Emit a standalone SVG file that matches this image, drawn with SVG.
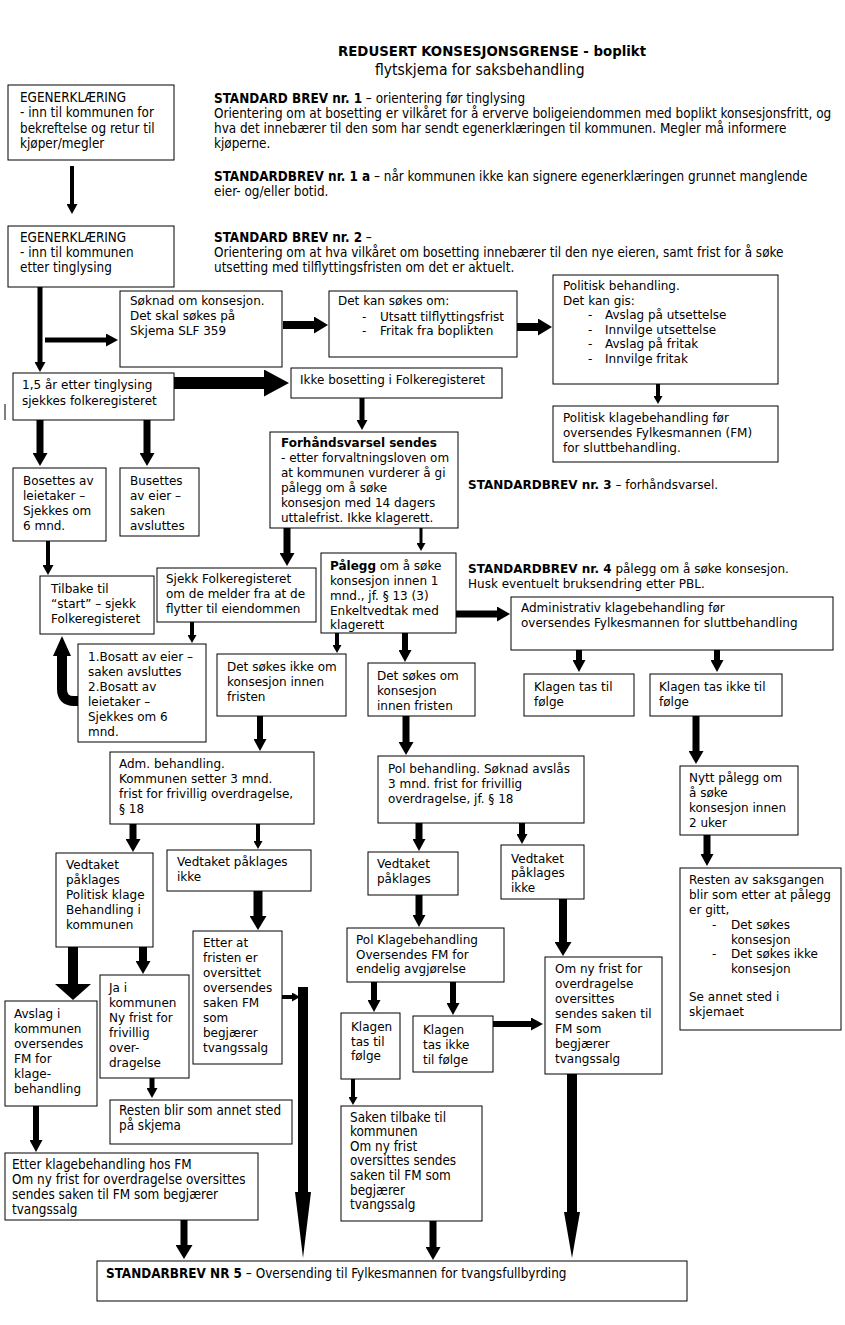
<svg xmlns="http://www.w3.org/2000/svg" width="845" height="1325" viewBox="0 0 845 1325">
<style>
.b{fill:#fff;stroke:#000;stroke-width:1}
.v{font-family:Verdana,"DejaVu Sans",sans-serif;font-size:12px;fill:#000}
.t{font-family:Tahoma,"DejaVu Sans Condensed","DejaVu Sans",sans-serif;font-size:13.4px;fill:#000}
.bd{font-weight:bold}
.c path,.c line{stroke:#000;fill:none}
</style>
<defs>
<marker id="h8" markerUnits="userSpaceOnUse" markerWidth="8" markerHeight="9" viewBox="0 0 8 9" refX="0" refY="4.5" orient="auto"><path d="M0,0L8,4.5L0,9z"/></marker>
<marker id="h10" markerUnits="userSpaceOnUse" markerWidth="10" markerHeight="11" viewBox="0 0 10 11" refX="0" refY="5.5" orient="auto"><path d="M0,0L10,5.5L0,11z"/></marker>
<marker id="h12" markerUnits="userSpaceOnUse" markerWidth="12" markerHeight="13" viewBox="0 0 12 13" refX="0" refY="6.5" orient="auto"><path d="M0,0L12,6.5L0,13z"/></marker>
<marker id="h14" markerUnits="userSpaceOnUse" markerWidth="13" markerHeight="15" viewBox="0 0 13 15" refX="0" refY="7.5" orient="auto"><path d="M0,0L13,7.5L0,15z"/></marker>
<marker id="h16" markerUnits="userSpaceOnUse" markerWidth="14" markerHeight="17" viewBox="0 0 14 17" refX="0" refY="8.5" orient="auto"><path d="M0,0L14,8.5L0,17z"/></marker>
<marker id="h26" markerUnits="userSpaceOnUse" markerWidth="25" markerHeight="27" viewBox="0 0 25 27" refX="0" refY="13.5" orient="auto"><path d="M0,0L25,13.5L0,27z"/></marker>
<marker id="hw" markerUnits="userSpaceOnUse" markerWidth="16" markerHeight="36" viewBox="0 0 16 36" refX="0" refY="18" orient="auto"><path d="M0,0L16,18L0,36z"/></marker>
</defs>

<g id="headers">
<text x="338" y="56" class="t bd" style="font-size:14.8px">REDUSERT KONSESJONSGRENSE - boplikt</text>
<text x="375" y="75" class="t" style="font-size:15.5px">flytskjema for saksbehandling</text>
<text x="214" y="103" class="t"><tspan class="bd">STANDARD BREV nr. 1</tspan> – orientering før tinglysing</text>
<text x="214" y="118" class="t">Orientering om at bosetting er vilkåret for å erverve boligeiendommen med boplikt konsesjonsfritt, og</text>
<text x="214" y="133" class="t">hva det innebærer til den som har sendt egenerklæringen til kommunen. Megler må informere</text>
<text x="214" y="148" class="t">kjøperne.</text>
<text x="214" y="181" class="t"><tspan class="bd">STANDARDBREV nr. 1 a</tspan> – når kommunen ikke kan signere egenerklæringen grunnet manglende</text>
<text x="214" y="196" class="t">eier- og/eller botid.</text>
<text x="214" y="242" class="t"><tspan class="bd">STANDARD BREV nr. 2</tspan> –</text>
<text x="214" y="257" class="t">Orientering om at hva vilkåret om bosetting innebærer til den nye eieren, samt frist for å søke</text>
<text x="214" y="272" class="t">utsetting med tilflyttingsfristen om det er aktuelt.</text>
<text x="468" y="489" class="v"><tspan class="bd">STANDARDBREV nr. 3</tspan> – forhåndsvarsel.</text>
<text x="468" y="573" class="v"><tspan class="bd">STANDARDBREV nr. 4</tspan> pålegg om å søke konsesjon.</text>
<text x="468" y="588" class="v">Husk eventuelt bruksendring etter PBL.</text>
</g>

<g id="n-egen1"><rect class="b" x="8" y="85" width="166" height="75"/>
<text class="t" x="20" y="102">EGENERKLÆRING</text><text class="t" x="20" y="117">- inn til kommunen for</text><text class="t" x="20" y="133">bekreftelse og retur til</text><text class="t" x="20" y="148">kjøper/megler</text></g>
<g id="n-egen2"><rect class="b" x="8" y="226" width="166" height="61"/>
<text class="t" x="20" y="242">EGENERKLÆRING</text><text class="t" x="20" y="257">- inn til kommunen</text><text class="t" x="20" y="272">etter tinglysing</text></g>
<g id="n-soknad"><rect class="b" x="120" y="291" width="162" height="76"/>
<text class="v" x="130" y="305">Søknad om konsesjon.</text><text class="v" x="130" y="320">Det skal søkes på</text><text class="v" x="130" y="335">Skjema SLF 359</text></g>
<g id="n-detkan"><rect class="b" x="329" y="291" width="188" height="66"/>
<text class="v" x="338" y="305">Det kan søkes om:</text><text class="v" x="362" y="321">-</text><text class="v" x="380" y="321">Utsatt tilflyttingsfrist</text><text class="v" x="362" y="335">-</text><text class="v" x="380" y="335">Fritak fra boplikten</text></g>
<g id="n-politisk"><rect class="b" x="553" y="275" width="225" height="109"/>
<text class="v" x="563" y="290">Politisk behandling.</text><text class="v" x="563" y="305">Det kan gis:</text>
<text class="v" x="588" y="319">-</text><text class="v" x="605" y="319">Avslag på utsettelse</text>
<text class="v" x="588" y="334">-</text><text class="v" x="605" y="334">Innvilge utsettelse</text>
<text class="v" x="588" y="348">-</text><text class="v" x="605" y="348">Avslag på fritak</text>
<text class="v" x="588" y="363">-</text><text class="v" x="605" y="363">Innvilge fritak</text></g>
<g id="n-polklage"><rect class="b" x="553" y="406" width="225" height="56"/>
<text class="v" x="563" y="422">Politisk klagebehandling før</text><text class="v" x="563" y="437">oversendes Fylkesmannen (FM)</text><text class="v" x="563" y="452">for sluttbehandling.</text></g>
<g id="n-15ar"><rect class="b" x="13" y="373" width="161" height="47"/>
<text class="v" x="22" y="389">1,5 år etter tinglysing</text><text class="v" x="22" y="405">sjekkes folkeregisteret</text></g>
<g id="n-ikke"><rect class="b" x="291" y="368" width="211" height="30"/>
<text class="v" x="300" y="384">Ikke bosetting i Folkeregisteret</text></g>
<g id="n-forhand"><rect class="b" x="270" y="432" width="188" height="96"/>
<text class="v bd" x="281" y="447">Forhåndsvarsel sendes</text><text class="v" x="281" y="462">- etter forvaltningsloven om</text><text class="v" x="281" y="477">at kommunen vurderer å gi</text><text class="v" x="281" y="492">pålegg om å søke</text><text class="v" x="281" y="507">konsesjon med 14 dagers</text><text class="v" x="281" y="522">uttalefrist. Ikke klagerett.</text></g>
<g id="n-bosettes"><rect class="b" x="13" y="468" width="93" height="73"/>
<text class="v" x="23" y="485">Bosettes av</text><text class="v" x="23" y="500">leietaker –</text><text class="v" x="23" y="515">Sjekkes om</text><text class="v" x="23" y="530">6 mnd.</text></g>
<g id="n-busettes"><rect class="b" x="120" y="468" width="79" height="68"/>
<text class="v" x="130" y="485">Busettes</text><text class="v" x="130" y="500">av eier –</text><text class="v" x="130" y="515">saken</text><text class="v" x="130" y="530">avsluttes</text></g>
<g id="n-tilbake"><rect class="b" x="40" y="576" width="114" height="58"/>
<text class="v" x="51" y="593">Tilbake til</text><text class="v" x="51" y="608">“start” – sjekk</text><text class="v" x="51" y="623">Folkeregisteret</text></g>
<g id="n-sjekk"><rect class="b" x="157" y="568" width="159" height="54"/>
<text class="v" x="166" y="583">Sjekk Folkeregisteret</text><text class="v" x="166" y="598">om de melder fra at de</text><text class="v" x="166" y="613">flytter til eiendommen</text></g>
<g id="n-palegg"><rect class="b" x="321" y="553" width="135" height="80"/>
<text class="v" x="330" y="570"><tspan class="bd">Pålegg</tspan> om å søke</text><text class="v" x="330" y="585">konsesjon innen 1</text><text class="v" x="330" y="600">mnd., jf. § 13 (3)</text><text class="v" x="330" y="615">Enkeltvedtak med</text><text class="v" x="330" y="629">klagerett</text></g>
<g id="n-admklage"><rect class="b" x="511" y="597" width="322" height="53"/>
<text class="v" x="521" y="612">Administrativ klagebehandling før</text><text class="v" x="521" y="627">oversendes Fylkesmannen for sluttbehandling</text></g>
<g id="n-klagentil1"><rect class="b" x="524" y="674" width="110" height="42"/>
<text class="v" x="534" y="691">Klagen tas til</text><text class="v" x="534" y="706">følge</text></g>
<g id="n-klagenikke1"><rect class="b" x="650" y="674" width="132" height="42"/>
<text class="v" x="659" y="691">Klagen tas ikke til</text><text class="v" x="659" y="706">følge</text></g>
<g id="n-nytt"><rect class="b" x="680" y="766" width="118" height="69"/>
<text class="v" x="689" y="782">Nytt pålegg om</text><text class="v" x="689" y="797">å søke</text><text class="v" x="689" y="812">konsesjon innen</text><text class="v" x="689" y="827">2 uker</text></g>
<g id="n-restenav"><rect class="b" x="680" y="868" width="161" height="162"/>
<text class="v" x="689" y="884">Resten av saksgangen</text><text class="v" x="689" y="899">blir som etter at pålegg</text><text class="v" x="689" y="914">er gitt,</text>
<text class="v" x="712" y="929">-</text><text class="v" x="731" y="929">Det søkes</text><text class="v" x="731" y="944">konsesjon</text>
<text class="v" x="712" y="958">-</text><text class="v" x="731" y="958">Det søkes ikke</text><text class="v" x="731" y="973">konsesjon</text>
<text class="v" x="689" y="1001">Se annet sted i</text><text class="v" x="689" y="1016">skjemaet</text></g>
<g id="n-bosatt"><rect class="b" x="78" y="644" width="128" height="98"/>
<text class="v" x="88" y="661">1.Bosatt av eier –</text><text class="v" x="88" y="676">saken avsluttes</text><text class="v" x="88" y="691">2.Bosatt av</text><text class="v" x="88" y="706">leietaker –</text><text class="v" x="88" y="721">Sjekkes om 6</text><text class="v" x="88" y="736">mnd.</text></g>
<g id="n-sokesikke"><rect class="b" x="217" y="654" width="129" height="62"/>
<text class="v" x="227" y="671">Det søkes ikke om</text><text class="v" x="227" y="686">konsesjon innen</text><text class="v" x="227" y="701">fristen</text></g>
<g id="n-sokesom"><rect class="b" x="368" y="663" width="107" height="53"/>
<text class="v" x="377" y="680">Det søkes om</text><text class="v" x="377" y="695">konsesjon</text><text class="v" x="377" y="710">innen fristen</text></g>
<g id="n-admbeh"><rect class="b" x="110" y="752" width="204" height="72"/>
<text class="v" x="119" y="768">Adm. behandling.</text><text class="v" x="119" y="783">Kommunen setter 3 mnd.</text><text class="v" x="119" y="798">frist for frivillig overdragelse,</text><text class="v" x="119" y="813">§ 18</text></g>
<g id="n-polbeh"><rect class="b" x="378" y="756" width="206" height="67"/>
<text class="v" x="388" y="773">Pol behandling. Søknad avslås</text><text class="v" x="388" y="788">3 mnd. frist for frivillig</text><text class="v" x="388" y="803">overdragelse, jf. § 18</text></g>
<g id="n-vedtak1"><rect class="b" x="56" y="853" width="97" height="94"/>
<text class="v" x="66" y="869">Vedtaket</text><text class="v" x="66" y="884">påklages</text><text class="v" x="66" y="899">Politisk klage</text><text class="v" x="66" y="914">Behandling i</text><text class="v" x="66" y="929">kommunen</text></g>
<g id="n-vedtakikke1"><rect class="b" x="167" y="850" width="144" height="41"/>
<text class="v" x="177" y="866">Vedtaket påklages</text><text class="v" x="177" y="881">ikke</text></g>
<g id="n-vedtak2"><rect class="b" x="368" y="852" width="90" height="43"/>
<text class="v" x="377" y="868">Vedtaket</text><text class="v" x="377" y="883">påklages</text></g>
<g id="n-vedtakikke2"><rect class="b" x="501" y="845" width="83" height="54"/>
<text class="v" x="511" y="863">Vedtaket</text><text class="v" x="511" y="877">påklages</text><text class="v" x="511" y="892">ikke</text></g>
<g id="n-etterat"><rect class="b" x="193" y="931" width="89" height="133"/>
<text class="v" x="203" y="947">Etter at</text><text class="v" x="203" y="962">fristen er</text><text class="v" x="203" y="977">oversittet</text><text class="v" x="203" y="992">oversendes</text><text class="v" x="203" y="1007">saken FM</text><text class="v" x="203" y="1022">som</text><text class="v" x="203" y="1037">begjærer</text><text class="v" x="203" y="1052">tvangssalg</text></g>
<g id="n-avslag"><rect class="b" x="5" y="1001" width="92" height="105"/>
<text class="v" x="14" y="1018">Avslag i</text><text class="v" x="14" y="1033">kommunen</text><text class="v" x="14" y="1048">oversendes</text><text class="v" x="14" y="1063">FM for</text><text class="v" x="14" y="1078">klage-</text><text class="v" x="14" y="1093">behandling</text></g>
<g id="n-ja"><rect class="b" x="100" y="975" width="89" height="103"/>
<text class="v" x="109" y="992">Ja i</text><text class="v" x="109" y="1007">kommunen</text><text class="v" x="109" y="1022">Ny frist for</text><text class="v" x="109" y="1037">frivillig</text><text class="v" x="109" y="1052">over-</text><text class="v" x="109" y="1067">dragelse</text></g>
<g id="n-restenblir"><rect class="b" x="110" y="1100" width="182" height="44"/>
<text class="t" x="119" y="1115">Resten blir som annet sted</text><text class="t" x="119" y="1130">på skjema</text></g>
<g id="n-etterklage"><rect class="b" x="5" y="1153" width="253" height="67"/>
<text class="t" x="12" y="1169">Etter klagebehandling hos FM</text><text class="t" x="12" y="1184">Om ny frist for overdragelse oversittes</text><text class="t" x="12" y="1199">sendes saken til FM som begjærer</text><text class="t" x="12" y="1214">tvangssalg</text></g>
<g id="n-polklagebeh"><rect class="b" x="347" y="928" width="157" height="54"/>
<text class="v" x="356" y="944">Pol Klagebehandling</text><text class="v" x="356" y="959">Oversendes FM for</text><text class="v" x="356" y="973">endelig avgjørelse</text></g>
<g id="n-klagentil2"><rect class="b" x="341" y="1013" width="59" height="66"/>
<text class="v" x="351" y="1031">Klagen</text><text class="v" x="351" y="1046">tas til</text><text class="v" x="351" y="1060">følge</text></g>
<g id="n-klagenikke2"><rect class="b" x="413" y="1016" width="80" height="56"/>
<text class="v" x="423" y="1034">Klagen</text><text class="v" x="423" y="1049">tas ikke</text><text class="v" x="423" y="1064">til følge</text></g>
<g id="n-omny"><rect class="b" x="545" y="957" width="117" height="117"/>
<text class="v" x="555" y="973">Om ny frist for</text><text class="v" x="555" y="988">overdragelse</text><text class="v" x="555" y="1003">oversittes</text><text class="v" x="555" y="1018">sendes saken til</text><text class="v" x="555" y="1033">FM som</text><text class="v" x="555" y="1048">begjærer</text><text class="v" x="555" y="1063">tvangssalg</text></g>
<g id="n-saken"><rect class="b" x="341" y="1106" width="141" height="115"/>
<text class="t" x="350" y="1122">Saken tilbake til</text><text class="t" x="350" y="1136">kommunen</text><text class="t" x="350" y="1151">Om ny frist</text><text class="t" x="350" y="1165">oversittes sendes</text><text class="t" x="350" y="1180">saken til FM som</text><text class="t" x="350" y="1195">begjærer</text><text class="t" x="350" y="1209">tvangssalg</text></g>
<g id="n-nr5"><rect class="b" x="97" y="1261" width="590" height="40"/>
<text class="t" x="106" y="1278"><tspan class="bd">STANDARBREV NR 5</tspan> – Oversending til Fylkesmannen for tvangsfullbyrding</text></g>

<g id="connectors" class="c">
<line x1="72" y1="166" x2="72" y2="204" stroke-width="4" marker-end="url(#h10)"/>
<line x1="40" y1="287" x2="40" y2="362" stroke-width="5" marker-end="url(#h10)"/>
<line x1="45" y1="340" x2="106" y2="340" stroke-width="5" marker-end="url(#h12)"/>
<line x1="283" y1="325" x2="314" y2="325" stroke-width="8" marker-end="url(#h16)"/>
<line x1="517" y1="327" x2="538" y2="327" stroke-width="8" marker-end="url(#h16)"/>
<line x1="658" y1="384" x2="658" y2="396" stroke-width="4" marker-end="url(#h8)"/>
<line x1="174" y1="383" x2="264" y2="383" stroke-width="12" marker-end="url(#h26)"/>
<line x1="362" y1="398" x2="362" y2="420" stroke-width="5" marker-end="url(#h10)"/>
<line x1="40" y1="420" x2="40" y2="453" stroke-width="7" marker-end="url(#h14)"/>
<line x1="147" y1="420" x2="147" y2="453" stroke-width="7" marker-end="url(#h14)"/>
<line x1="48" y1="541" x2="48" y2="565" stroke-width="4" marker-end="url(#h10)"/>
<line x1="287" y1="528" x2="287" y2="553" stroke-width="7" marker-end="url(#h14)"/>
<line x1="421" y1="528" x2="421" y2="543" stroke-width="3" marker-end="url(#h8)"/>
<line x1="456" y1="614" x2="497" y2="614" stroke-width="7" marker-end="url(#h14)"/>
<line x1="579" y1="650" x2="579" y2="660" stroke-width="6" marker-end="url(#h12)"/>
<line x1="717" y1="650" x2="717" y2="660" stroke-width="6" marker-end="url(#h12)"/>
<line x1="696" y1="716" x2="696" y2="751" stroke-width="7" marker-end="url(#h14)"/>
<line x1="707" y1="835" x2="707" y2="854" stroke-width="7" marker-end="url(#h12)"/>
<line x1="192" y1="622" x2="192" y2="635" stroke-width="4" marker-end="url(#h8)"/>
<path d="M78,701 L74,701 Q62,701 62,689 L62,655" stroke-width="10"/>
<polygon points="53,656 71,656 62,636" fill="#000"/>
<line x1="337" y1="633" x2="337" y2="645" stroke-width="4" marker-end="url(#h8)"/>
<line x1="405" y1="633" x2="405" y2="650" stroke-width="6" marker-end="url(#h12)"/>
<line x1="260" y1="716" x2="260" y2="739" stroke-width="6" marker-end="url(#h12)"/>
<line x1="406" y1="716" x2="406" y2="742" stroke-width="7" marker-end="url(#h14)"/>
<line x1="133" y1="824" x2="133" y2="839" stroke-width="7" marker-end="url(#h14)"/>
<line x1="258" y1="824" x2="258" y2="841" stroke-width="4" marker-end="url(#h8)"/>
<line x1="419" y1="823" x2="419" y2="839" stroke-width="7" marker-end="url(#h12)"/>
<line x1="522" y1="823" x2="522" y2="834" stroke-width="6" marker-end="url(#h10)"/>
<line x1="258" y1="891" x2="258" y2="916" stroke-width="9" marker-end="url(#h16)"/>
<line x1="73" y1="947" x2="73" y2="984" stroke-width="10" marker-end="url(#hw)"/>
<line x1="143" y1="947" x2="143" y2="961" stroke-width="8" marker-end="url(#h14)"/>
<line x1="282" y1="997" x2="292" y2="997" stroke-width="4" marker-end="url(#h8)"/>
<polygon points="298,987 308,987 308,1192 311,1192 303,1258 295,1192 298,1192" fill="#000"/>
<line x1="152" y1="1078" x2="152" y2="1088" stroke-width="5" marker-end="url(#h10)"/>
<line x1="36" y1="1106" x2="36" y2="1140" stroke-width="6" marker-end="url(#h12)"/>
<line x1="184" y1="1220" x2="184" y2="1245" stroke-width="7" marker-end="url(#h16)"/>
<line x1="419" y1="895" x2="419" y2="915" stroke-width="7" marker-end="url(#h12)"/>
<line x1="374" y1="982" x2="374" y2="1000" stroke-width="6" marker-end="url(#h12)"/>
<line x1="453" y1="982" x2="453" y2="1003" stroke-width="6" marker-end="url(#h12)"/>
<line x1="493" y1="1024" x2="531" y2="1024" stroke-width="6" marker-end="url(#h12)"/>
<line x1="563" y1="899" x2="563" y2="942" stroke-width="8" marker-end="url(#h16)"/>
<polygon points="567,1074 577,1074 577,1212 580,1212 572,1258 564,1212 567,1212" fill="#000"/>
<line x1="353" y1="1079" x2="353" y2="1097" stroke-width="4" marker-end="url(#h8)"/>
<line x1="433" y1="1221" x2="433" y2="1247" stroke-width="7" marker-end="url(#h14)"/>
<line x1="5" y1="404" x2="5" y2="420" stroke-width="1"/>
</g>
</svg>
